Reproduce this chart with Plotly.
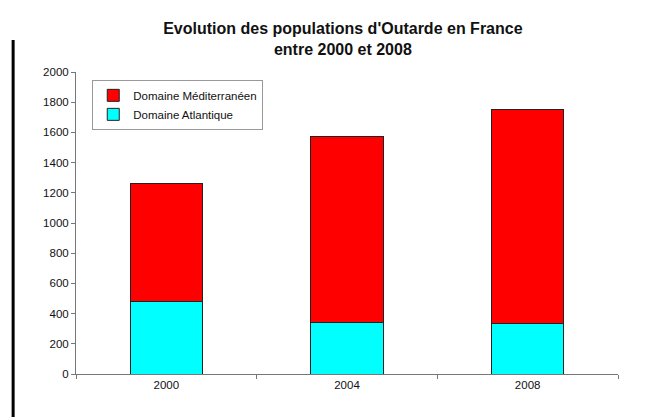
import plotly.graph_objects as go

years = ["2000", "2004", "2008"]
atlantique = [480, 340, 335]
mediterraneen = [780, 1230, 1420]
y_ticks = [0, 200, 400, 600, 800, 1000, 1200, 1400, 1600, 1800, 2000]

fig = go.Figure()
fig.add_trace(go.Bar(x=years, y=atlantique, name="Domaine Atlantique",
                     marker=dict(color="#00FFFF", line=dict(color="#222222", width=1)),
                     width=0.4))
fig.add_trace(go.Bar(x=years, y=mediterraneen, name="Domaine Méditerranéen",
                     marker=dict(color="#FF0000", line=dict(color="#222222", width=1)),
                     width=0.4))

fig.update_layout(
    barmode="stack",
    width=649, height=417,
    paper_bgcolor="white", plot_bgcolor="white",
    font=dict(family="Liberation Sans, Arial, sans-serif", size=11, color="#111111"),
    title=dict(text="<b>Evolution des populations d'Outarde en France<br>entre 2000 et 2008</b>",
               x=0.516, xanchor="center", y=0.938, yanchor="top",
               font=dict(size=16, color="#111111")),
    margin=dict(l=68, r=39, t=64, b=51),
    showlegend=True,
    legend=dict(x=0.03, y=0.974, xanchor="left", yanchor="top",
                traceorder="reversed", bgcolor="white",
                bordercolor="#999999", borderwidth=1,
                font=dict(size=11.5), itemwidth=30,
                tracegroupgap=0),
    xaxis=dict(type="category", showline=True, linecolor="#777777", linewidth=1,
               ticks="outside", tickson="boundaries", ticklen=4, tickcolor="#777777",
               showgrid=False, tickfont=dict(size=11.5)),
    yaxis=dict(range=[0, 2000], tickvals=y_ticks, showline=True, linecolor="#777777",
               linewidth=1, ticks="outside", ticklen=4, tickcolor="#777777",
               showgrid=False, zeroline=False, tickfont=dict(size=11.5)),
)

fig.add_shape(type="line", xref="paper", yref="paper",
              x0=-0.116, x1=-0.116, y0=-0.3, y1=1.106,
              line=dict(color="black", width=3))

fig.write_html("out.html")
